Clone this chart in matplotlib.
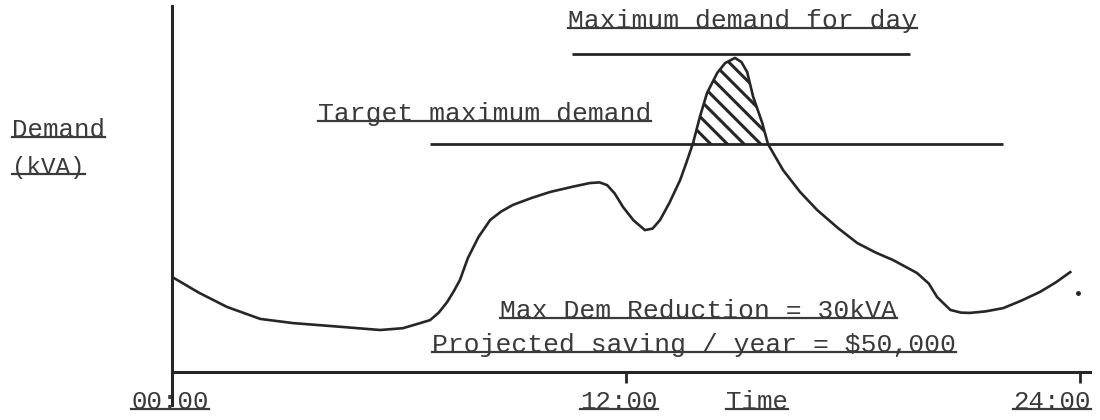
import matplotlib

matplotlib.use("Agg")
import matplotlib.pyplot as plt
import matplotlib.transforms as mtransforms
from matplotlib.lines import Line2D

plt.rcParams["font.family"] = ["Liberation Mono", "DejaVu Sans Mono"]
plt.rcParams["hatch.linewidth"] = 2.2

# demand profile (hour of day, kVA)
hours = [0.0, 0.7, 1.45, 2.33, 3.2, 4.52, 5.5, 6.1, 6.56, 6.82, 7.05, 7.27, 7.45,
         7.61, 7.82, 8.1, 8.41, 8.7, 9.01, 9.5, 9.99, 10.6, 11.05, 11.3, 11.5, 11.7,
         11.92, 12.2, 12.5, 12.7, 12.9, 13.15, 13.43, 13.6, 13.77, 13.95, 14.14,
         14.41, 14.62, 14.88, 15.05, 15.2, 15.36, 15.6, 15.75, 16.15, 16.6, 17.05,
         17.6, 18.11, 18.6, 19.06, 19.69, 20.0, 20.22, 20.57, 20.85, 21.09, 21.5,
         21.97, 22.45, 22.94, 23.35, 23.74]
demand = [31.7, 26.5, 21.7, 17.7, 16.3, 15.0, 14.0, 14.6, 16.3, 17.3, 19.8, 23.3,
          27.0, 30.7, 38.0, 45.0, 50.7, 53.5, 55.7, 58.0, 60.0, 61.8, 63.0, 63.2,
          62.3, 59.5, 55.0, 50.5, 47.3, 47.8, 50.7, 56.5, 64.0, 70.0, 76.3, 85.0,
          93.0, 99.7, 103.0, 104.7, 103.3, 100.0, 91.7, 83.0, 76.0, 67.3, 60.0,
          54.0, 48.0, 43.0, 39.8, 37.3, 33.0, 29.5, 25.0, 20.7, 19.8, 19.7, 20.2,
          21.3, 23.8, 26.7, 29.8, 33.3]
stray_dot = (23.95, 26.3)

target_kva = 76
target_span = (6.82, 21.97)
max_kva = 106
max_span = (10.57, 19.5)

tick_hours = [0, 12, 24]
tick_labels = ["00:00", "12:00", "24:00"]

INK = "#262626"
TXT = "#3a3a3a"

fig = plt.figure(figsize=(11, 4.2), dpi=100)
ax = fig.add_axes([0.1564, 0.0357, 0.8255, 0.95])
ax.set_xlim(0, 24)
ax.set_ylim(-11, 122)

for s in ("top", "right"):
    ax.spines[s].set_visible(False)
ax.spines["bottom"].set_position(("data", 0))
ax.spines["bottom"].set_bounds(0, 24.27)
ax.spines["left"].set_bounds(-11, 122)
for s in ("bottom", "left"):
    ax.spines[s].set_linewidth(2.2)
    ax.spines[s].set_color(INK)
ax.set_yticks([])

ax.set_xticks(tick_hours, tick_labels, fontsize=18.5, color=TXT)
ax.tick_params(axis="x", direction="out", length=8, width=2, color=INK, pad=5)
ax.xaxis.get_major_ticks()[0].tick1line.set_visible(False)
label_shift = [-2, -7, -28]
for lab, dx in zip(ax.get_xticklabels(), label_shift):
    lab.set_transform(lab.get_transform() +
                      mtransforms.ScaledTranslation(dx / 100, 0, fig.dpi_scale_trans))

ax.plot(hours, demand, color=INK, lw=1.9, solid_joinstyle="round", zorder=3)
ax.plot(*stray_dot, marker="o", ms=2.5, color=INK, ls="none")

ax.hlines(target_kva, *target_span, color=INK, lw=2.0)
ax.hlines(max_kva, *max_span, color=INK, lw=2.0)

above = [d >= target_kva for d in demand]
ax.fill_between(hours, target_kva, demand, where=above, interpolate=True,
                facecolor="none", edgecolor=INK, hatch="\\\\", linewidth=0)

texts = []
texts.append(ax.text(3.86, 83.7, "Target maximum demand", fontsize=19, color=TXT))
texts.append(ax.text(10.47, 114.7, "Maximum demand for day", fontsize=19, color=TXT))
texts.append(ax.text(8.67, 18.0, "Max Dem Reduction = 30kVA", fontsize=19, color=TXT))
texts.append(ax.text(6.87, 6.7, "Projected saving / year = $50,000", fontsize=19,
                     color=TXT))
texts.append(ax.text(15.46, -12.2, "Time", fontsize=18.5, color=TXT, ha="center",
                     va="baseline"))
texts.append(fig.text(0.011, 1 - 137 / 420, "Demand", fontsize=18.5, color=TXT))
texts.append(fig.text(0.011, 1 - 174 / 420, "(kVA)", fontsize=17.5, color=TXT))

# underline every label like the typed original
fig.canvas.draw()
renderer = fig.canvas.get_renderer()
for t in texts + list(ax.get_xticklabels()):
    bb = t.get_window_extent(renderer)
    y = bb.y0 + 0.2 * bb.height
    fig.add_artist(Line2D([bb.x0, bb.x1], [y, y], transform=None,
                          color=TXT, lw=1.6))

fig.savefig("out.png", dpi=100)
